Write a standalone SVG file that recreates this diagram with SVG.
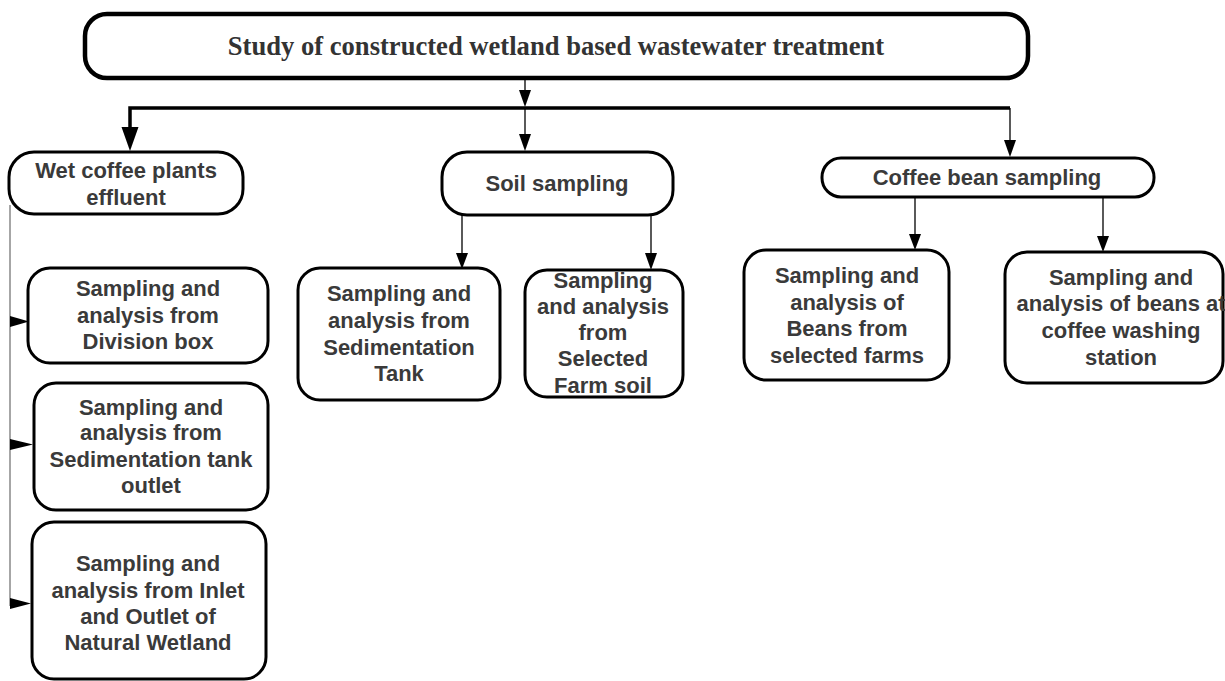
<svg xmlns="http://www.w3.org/2000/svg" width="1225" height="681" viewBox="0 0 1225 681">
<style>
.box{fill:#fff;stroke:#000;stroke-width:3}
.top{fill:#fff;stroke:#000;stroke-width:4.5}
.t{font-family:"Liberation Sans",Arial,sans-serif;font-weight:bold;font-size:22px;fill:#3a3a3a;text-anchor:middle}
.title{font-family:"Liberation Serif","Times New Roman",serif;font-weight:bold;font-size:26.6px;fill:#333;text-anchor:middle}
.ln{fill:none;stroke:#000;stroke-width:1.3}
.thick{fill:none;stroke:#000;stroke-width:3.5}
.gray{fill:none;stroke:#888;stroke-width:1.5}
.ah{fill:#000;stroke:none}
</style>
<rect width="1225" height="681" fill="#fff"/>
<g id="connectors">
<line class="ln" x1="525" y1="79" x2="525" y2="92"/>
<polygon class="ah" points="519,90 531,90 525,107"/>
<path class="thick" d="M130,128 V108 H1010"/>
<polygon class="ah" points="121.5,127 138.5,127 130,151"/>
<line class="ln" x1="525" y1="108" x2="525" y2="136"/>
<polygon class="ah" points="519,134 531,134 525,151"/>
<line class="ln" x1="1010" y1="108" x2="1010" y2="142"/>
<polygon class="ah" points="1004,140 1016,140 1010,157"/>
<line class="gray" x1="10" y1="205" x2="10" y2="606"/>
<polygon class="ah" points="10,316 10,327 29,321.5"/>
<polygon class="ah" points="10,439 10,450 33,444.5"/>
<polygon class="ah" points="10,598 10,609 31,603.5"/>
<line class="ln" x1="462" y1="215" x2="462" y2="255"/>
<polygon class="ah" points="456,253 468,253 462,269"/>
<line class="ln" x1="651" y1="215" x2="651" y2="255"/>
<polygon class="ah" points="645,253 657,253 651,270"/>
<line class="ln" x1="915" y1="197" x2="915" y2="236"/>
<polygon class="ah" points="909,234 921,234 915,250"/>
<line class="ln" x1="1103" y1="197" x2="1103" y2="238"/>
<polygon class="ah" points="1097,236 1109,236 1103,252"/>
</g>
<g id="n_title">
<rect class="top" x="85" y="14" width="943" height="64" rx="22"/>
<text class="title" x="556" y="55">Study of constructed wetland based wastewater treatment</text>
</g>
<g id="n_wet">
<rect class="box" x="9" y="152" width="234" height="62" rx="25"/>
<text class="t" x="126" y="178">Wet coffee plants</text>
<text class="t" x="126" y="205">effluent</text>
</g>
<g id="n_soil">
<rect class="box" x="442" y="152" width="231" height="63" rx="25"/>
<text class="t" x="557" y="191">Soil sampling</text>
</g>
<g id="n_bean">
<rect class="box" x="822" y="158" width="332" height="39" rx="19"/>
<text class="t" x="987" y="185">Coffee bean sampling</text>
</g>
<g id="n_division">
<rect class="box" x="28" y="268" width="240" height="95" rx="22"/>
<text class="t" x="148" y="296">Sampling and</text>
<text class="t" x="148" y="323">analysis from</text>
<text class="t" x="148" y="349">Division box</text>
</g>
<g id="n_sedoutlet">
<rect class="box" x="34" y="383" width="234" height="127" rx="22"/>
<text class="t" x="151" y="415">Sampling and</text>
<text class="t" x="151" y="440">analysis from</text>
<text class="t" x="151" y="467">Sedimentation tank</text>
<text class="t" x="151" y="493">outlet</text>
</g>
<g id="n_wetland">
<rect class="box" x="32" y="522" width="234" height="157" rx="22"/>
<text class="t" x="148" y="571">Sampling and</text>
<text class="t" x="148" y="598">analysis from Inlet</text>
<text class="t" x="148" y="624">and Outlet of</text>
<text class="t" x="148" y="650">Natural Wetland</text>
</g>
<g id="n_sedtank">
<rect class="box" x="298" y="268" width="202" height="132" rx="22"/>
<text class="t" x="399" y="301">Sampling and</text>
<text class="t" x="399" y="328">analysis from</text>
<text class="t" x="399" y="355">Sedimentation</text>
<text class="t" x="399" y="381">Tank</text>
</g>
<g id="n_farmsoil">
<rect class="box" x="525" y="270" width="158" height="127" rx="22"/>
<text class="t" x="603" y="288">Sampling</text>
<text class="t" x="603" y="314">and analysis</text>
<text class="t" x="603" y="340">from</text>
<text class="t" x="603" y="366">Selected</text>
<text class="t" x="603" y="393">Farm soil</text>
</g>
<g id="n_farmbeans">
<rect class="box" x="744" y="250" width="205" height="130" rx="22"/>
<text class="t" x="847" y="283">Sampling and</text>
<text class="t" x="847" y="310">analysis of</text>
<text class="t" x="847" y="336">Beans from</text>
<text class="t" x="847" y="363">selected farms</text>
</g>
<g id="n_washing">
<rect class="box" x="1005" y="252" width="218" height="131" rx="22"/>
<text class="t" x="1121" y="285">Sampling and</text>
<text class="t" x="1121" y="311">analysis of beans at</text>
<text class="t" x="1121" y="338">coffee washing</text>
<text class="t" x="1121" y="365">station</text>
</g>
</svg>
